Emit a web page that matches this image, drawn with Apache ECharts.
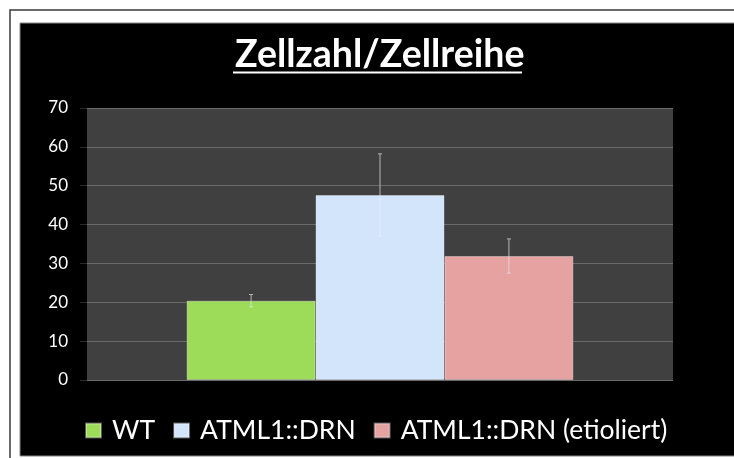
<!DOCTYPE html>
<html>
<head>
<meta charset="utf-8">
<script src="https://cdn.jsdelivr.net/npm/echarts@6/dist/echarts.min.js"></script>
<style>
  html, body { margin: 0; padding: 0; background: #ffffff; }
  #chart { width: 734px; height: 458px; }
</style>
</head>
<body>
<div id="chart"></div>
<script>
// Werte
const seriesNames = ['WT', 'ATML1::DRN', 'ATML1::DRN (etioliert)'];
const seriesValues = [20.4, 47.6, 31.9];
const seriesErrors = [1.6, 10.6, 4.4];
const seriesColors = ['#9cdc58', '#d3e5fb', '#e6a1a1'];
const yTicks = [0, 10, 20, 30, 40, 50, 60, 70];

const catGap = 0.34;

let chartDom = document.getElementById('chart');
let myChart = echarts.init(chartDom);
let option;

// Fehlerbalken: oben grau, unten hell (auf dem hellblauen Balken kaum sichtbar)
function errorSeries(idx) {
    return {
        type: 'custom',
        name: seriesNames[idx] + ' err',
        z: 5,
        silent: true,
        data: [[0, seriesValues[idx] - seriesErrors[idx], seriesValues[idx], seriesValues[idx] + seriesErrors[idx]]],
        renderItem: function (params, api) {
            let band = api.size([1, 0])[0];
            let barW = band * (1 - catGap) / seriesNames.length;
            let offset = (idx - (seriesNames.length - 1) / 2) * barW;
            let lo = api.coord([api.value(0), api.value(1)]);
            let mid = api.coord([api.value(0), api.value(2)]);
            let hi = api.coord([api.value(0), api.value(3)]);
            let x = lo[0] + offset;
            let cap = 2;
            let upper = { stroke: '#b4b4b4', lineWidth: 1 };
            let lower = { stroke: 'rgba(235,240,250,0.6)', lineWidth: 1 };
            return {
                type: 'group',
                children: [
                    { type: 'line', shape: { x1: x, y1: mid[1], x2: x, y2: hi[1] }, style: upper },
                    { type: 'line', shape: { x1: x - cap, y1: hi[1], x2: x + cap, y2: hi[1] }, style: upper },
                    { type: 'line', shape: { x1: x, y1: lo[1], x2: x, y2: mid[1] }, style: lower },
                    { type: 'line', shape: { x1: x - cap, y1: lo[1], x2: x + cap, y2: lo[1] }, style: lower }
                ]
            };
        }
    };
}

let barSeries = seriesNames.map(function (name, i) {
    return {
        name: name,
        type: 'bar',
        barGap: '0%',
        barCategoryGap: (catGap * 100) + '%',
        data: [seriesValues[i]],
        itemStyle: {
            color: seriesColors[i],
            borderColor: 'rgba(255,255,255,0.35)',
            borderWidth: 1
        }
    };
});

option = {
    backgroundColor: '#ffffff',
    animation: false,
    graphic: [
        { type: 'rect', z: -10, shape: { x: 10, y: 10, width: 740, height: 460 },
          style: { fill: '#ffffff', stroke: '#3a3a3a', lineWidth: 1.5 } },
        { type: 'rect', z: -9, shape: { x: 20, y: 23, width: 730, height: 433 },
          style: { fill: '#000000', stroke: '#888888', lineWidth: 1 } },
        // Unterstreichung des Titels
        { type: 'line', z: 10, shape: { x1: 233, y1: 72.5, x2: 522, y2: 72.5 },
          style: { stroke: '#ffffff', lineWidth: 2 } }
    ],
    title: {
        text: 'Zellzahl/Zellreihe',
        left: 230,
        top: 31,
        textStyle: {
            color: '#ffffff',
            fontFamily: 'Lato',
            fontWeight: 'bold',
            fontSize: 37.5
        }
    },
    legend: {
        data: seriesNames,
        top: 412,
        left: 80,
        icon: 'rect',
        itemWidth: 15,
        itemHeight: 14,
        itemGap: 18,
        textStyle: { color: '#ffffff', fontFamily: 'Lato', fontSize: 26.5, padding: [0, 0, 0, 6] }
    },
    grid: {
        left: 87,
        right: 61,
        top: 108,
        bottom: 78,
        show: true,
        backgroundColor: '#404040',
        borderWidth: 0
    },
    xAxis: {
        type: 'category',
        data: [''],
        axisLine: { show: false },
        axisTick: { show: false },
        axisLabel: { show: false }
    },
    yAxis: {
        type: 'value',
        min: yTicks[0],
        max: yTicks[yTicks.length - 1],
        interval: 10,
        axisLine: { show: false },
        axisTick: { show: true, length: 7, lineStyle: { color: '#2a2a2a' } },
        axisLabel: { color: '#ffffff', fontFamily: 'Lato', fontSize: 17, margin: 19 },
        splitLine: { lineStyle: { color: '#6a6a6a', width: 1 } }
    },
    series: barSeries.concat(seriesNames.map(function (n, i) { return errorSeries(i); }))
};

option && myChart.setOption(option);
</script>
</body>
</html>
